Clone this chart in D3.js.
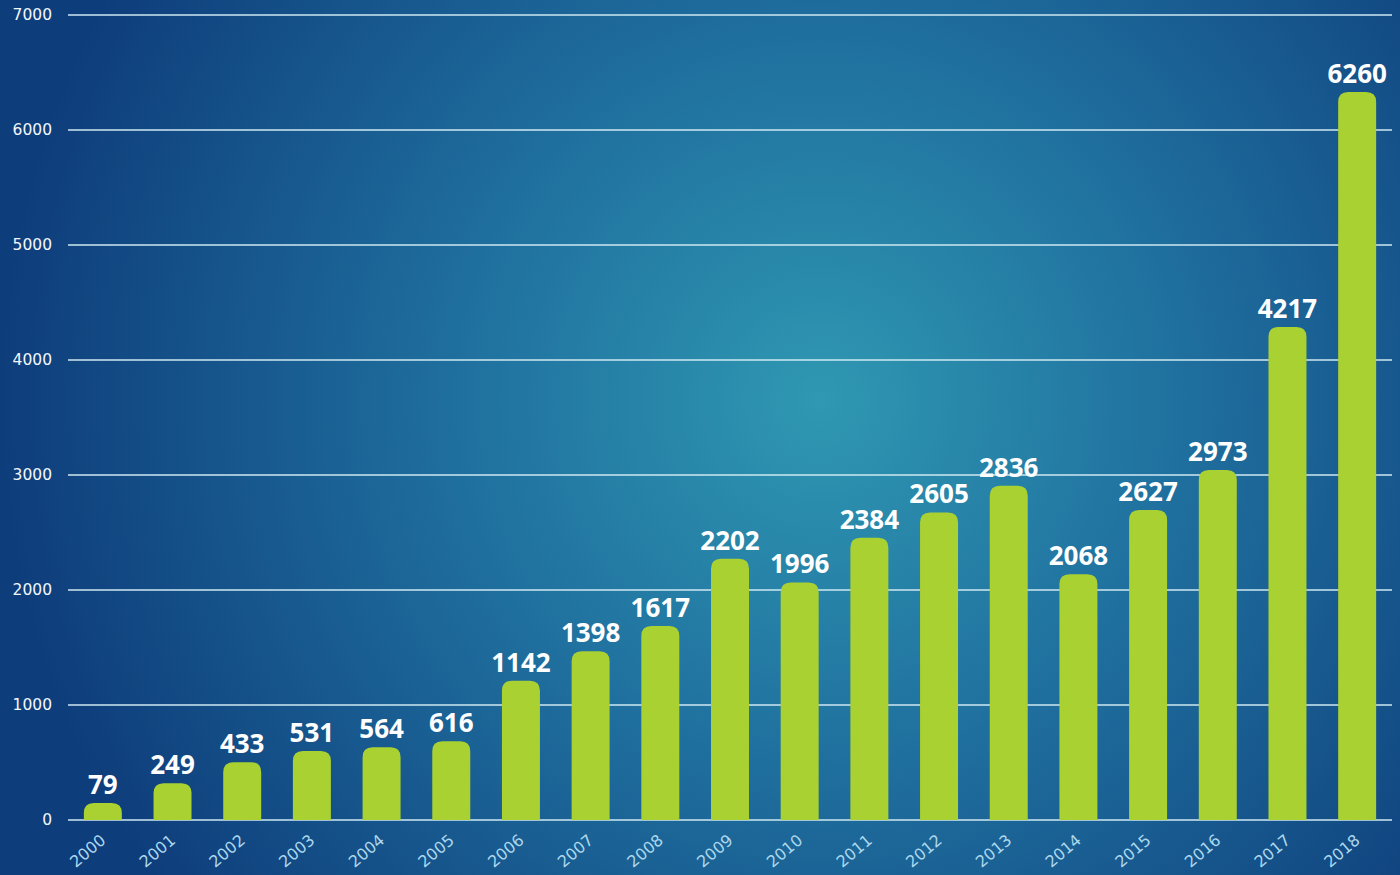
<!DOCTYPE html>
<html>
<head>
<meta charset="utf-8">
<script src="https://cdn.jsdelivr.net/npm/d3@7"></script>
<style>
  html, body { margin: 0; padding: 0; background: #0f3f7c; }
  svg { display: block; }
</style>
</head>
<body>
<div class="chart"></div>
<script>
const years = ['2000','2001','2002','2003','2004','2005','2006','2007','2008','2009',
  '2010','2011','2012','2013','2014','2015','2016','2017','2018'];
const counts = [79, 249, 433, 531, 564, 616, 1142, 1398, 1617, 2202,
  1996, 2384, 2605, 2836, 2068, 2627, 2973, 4217, 6260];
const yTicks = [0, 1000, 2000, 3000, 4000, 5000, 6000, 7000];

const WIDTH = 1400;
const HEIGHT = 875;
const margin = { top: 15, right: 8, bottom: 55, left: 68 };
const CAP = 8;

const svg = d3.select('.chart')
  .append('svg')
  .attr('width', WIDTH)
  .attr('height', HEIGHT);

// background glow
const defs = svg.append('defs');
const grad = defs.append('radialGradient')
  .attr('id', 'bg')
  .attr('gradientUnits', 'userSpaceOnUse')
  .attr('cx', 820).attr('cy', 400).attr('r', 820);
grad.append('stop').attr('offset', '0%').attr('stop-color', '#2f98b2');
grad.append('stop').attr('offset', '45%').attr('stop-color', '#1f6f9e');
grad.append('stop').attr('offset', '100%').attr('stop-color', '#0e3d7b');

svg.append('rect')
  .attr('width', WIDTH)
  .attr('height', HEIGHT)
  .attr('fill', 'url(#bg)');

const x = d3.scaleBand()
  .domain(years)
  .range([margin.left, WIDTH - margin.right])
  .paddingInner(0.455)
  .paddingOuter(0.2275);

const y = d3.scaleLinear()
  .domain([0, 7000])
  .range([HEIGHT - margin.bottom, margin.top]);

// gridlines
svg.append('g')
  .selectAll('line')
  .data(yTicks)
  .enter()
  .append('line')
  .attr('x1', margin.left)
  .attr('x2', WIDTH - margin.right)
  .attr('y1', d => y(d))
  .attr('y2', d => y(d))
  .attr('stroke', '#cfe9f2')
  .attr('stroke-width', 1.6);

// y tick labels
svg.append('g')
  .selectAll('text')
  .data(yTicks)
  .enter()
  .append('text')
  .attr('x', 52)
  .attr('y', d => y(d))
  .attr('dy', '0.35em')
  .attr('text-anchor', 'end')
  .attr('fill', '#f2f7fa')
  .style('font-family', '"DejaVu Sans", sans-serif')
  .style('font-size', '15.5px')
  .text(d => d);

// bars with rounded tops
function barPath(d, i) {
  const x0 = x(years[i]);
  const w = x.bandwidth();
  const y0 = y(0);
  const top = y(d) - CAP;
  const r = 10;
  return `M${x0},${y0} L${x0},${top + r} Q${x0},${top} ${x0 + r},${top} ` +
    `L${x0 + w - r},${top} Q${x0 + w},${top} ${x0 + w},${top + r} L${x0 + w},${y0} Z`;
}

svg.append('g')
  .selectAll('path')
  .data(counts)
  .enter()
  .append('path')
  .attr('class', 'bar')
  .attr('d', barPath)
  .attr('fill', '#aad132');

// value labels
svg.append('g')
  .selectAll('text')
  .data(counts)
  .enter()
  .append('text')
  .attr('x', (d, i) => x(years[i]) + x.bandwidth() / 2)
  .attr('y', d => y(d) - CAP - 9)
  .attr('text-anchor', 'middle')
  .attr('fill', '#ffffff')
  .style('font-family', '"Open Sans", sans-serif')
  .style('font-weight', 'bold')
  .style('font-size', '26px')
  .text(d => d);

// year labels
svg.append('g')
  .selectAll('text')
  .data(years)
  .enter()
  .append('text')
  .attr('transform', d => `translate(${x(d) + x.bandwidth() / 2 + 4},${y(0) + 22}) rotate(-40)`)
  .attr('text-anchor', 'end')
  .attr('fill', '#acd8ee')
  .style('font-family', '"DejaVu Sans", sans-serif')
  .style('font-size', '16px')
  .text(d => d);
</script>
</body>
</html>
